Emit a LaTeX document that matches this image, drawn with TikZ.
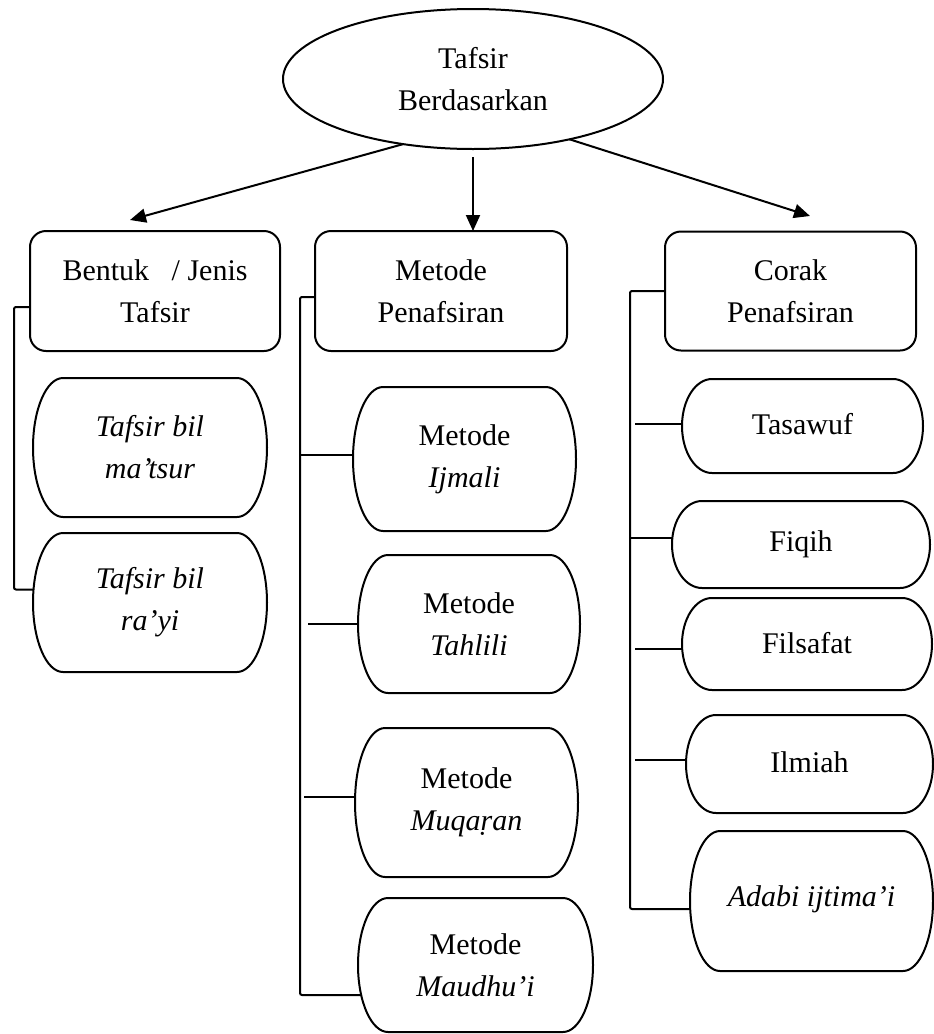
\documentclass[tikz,border=0pt]{standalone}
\usepackage{fontspec}
\setmainfont{Liberation Serif}
\usetikzlibrary{arrows.meta,shapes.geometric}
\newcommand\prx{30pt}
% #1 name, #2 cx, #3 cy, #4 width, #5 height, #6 text
\newcommand\mypill[6]{%
  \node[txt, minimum width=#4pt, minimum height=#5pt] (#1) at (#2,#3) {#6};
  \draw[ln] ([xshift=\prx]#1.north west) -- ([xshift=-\prx]#1.north east)
     arc[start angle=90, end angle=-90, x radius=\prx, y radius=#5pt/2]
     -- ([xshift=\prx]#1.south west)
     arc[start angle=270, end angle=90, x radius=\prx, y radius=#5pt/2] -- cycle;
}
\begin{document}
\begin{tikzpicture}[x=1pt,y=-1pt,
  ln/.style={line width=2pt},
  arr/.style={line width=2pt,-{Triangle[length=16pt,width=14pt]}},
  txt/.style={font=\fontsize{30}{42}\selectfont, align=center, inner sep=0pt, outer sep=0pt},
  rbox/.style={txt, draw, line width=2pt, rounded corners=16pt},
  ellnode/.style={txt, draw, ellipse, line width=2pt}
]
\useasboundingbox (0,0) rectangle (934,1034);

% top ellipse
\node[ellnode, minimum width=380pt, minimum height=140pt] (top) at (473,79) {Tafsir\\Berdasarkan};

% category boxes
\node[rbox, minimum width=250pt, minimum height=120pt] (b1) at (155,291) {Bentuk~~~/ Jenis\\Tafsir};
\node[rbox, minimum width=252pt, minimum height=120pt] (b2) at (441,291) {Metode\\Penafsiran};
\node[rbox, minimum width=251pt, minimum height=119pt] (b3) at (790.5,291) {Corak\\Penafsiran};

% arrows
\coordinate (t1) at (130,220);
\coordinate (t3) at (810,216);
\draw[arr] (top.223) -- (t1);
\draw[arr] ([yshift=-8pt]top.south) -- (top.south |- b2.north);
\draw[arr] (top.328) -- (t3);

% left column
\mypill{p1}{150}{447.5}{234}{139}{\textit{Tafsir bil}\\\textit{ma’tsur}}
\mypill{p2}{150}{602.5}{234}{139}{\textit{Tafsir bil}\\\textit{ra’yi}}

% middle column
\mypill{m1}{464.5}{459}{223}{144}{Metode\\\textit{Ijmali}}
\mypill{m2}{469}{624}{222}{138}{Metode\\\textit{Tahlili}}
\mypill{m3}{466.5}{802.5}{223}{149}{Metode\\\textit{Muqaṛan}}
\mypill{m4}{475.5}{965}{235}{134}{Metode\\\textit{Maudhu’i}}

% right column
\mypill{r1}{802.5}{426}{241}{94}{\raisebox{5pt}{Tasawuf}}
\mypill{r2}{801}{544.5}{258}{87}{Fiqih}
\mypill{r3}{807}{644}{250}{92}{\raisebox{3pt}{Filsafat}}
\mypill{r4}{809.5}{764}{247}{98}{\raisebox{4pt}{Ilmiah}}
\mypill{r5}{811.5}{901}{243}{140}{\raisebox{9pt}{\textit{Adabi ijtima’i}}}

% bracket lines
\coordinate (lv) at (14,0);
\coordinate (mv) at (300,0);
\coordinate (rv) at (630,0);

\draw[ln, rounded corners=2pt] ([yshift=-16pt]b1.west) -- ([yshift=-16pt]b1.west -| lv)
   -- ([yshift=13pt]p2.west -| lv) -- ([yshift=13pt]p2.west);

\draw[ln, rounded corners=2pt] ([yshift=-6pt]b2.west) -- ([yshift=-6pt]b2.west -| mv)
   -- ([yshift=-30pt]m4.west -| mv) -- ([shift={(3.2pt,-30pt)}]m4.west);
\draw[ln] ([yshift=4pt]m1.west) -- ([yshift=4pt]m1.west -| mv);
\draw[ln] (m2.west) -- ([xshift=8pt]m2.west -| mv);
\draw[ln] ([yshift=5.5pt]m3.west) -- ([xshift=4pt,yshift=5.5pt]m3.west -| mv);

\draw[ln, rounded corners=2pt] (b3.west) -- (b3.west -| rv)
   -- ([yshift=-8pt]r5.west -| rv) -- ([yshift=-8pt]r5.west);
\draw[ln] ([yshift=2pt]r1.west) -- ([xshift=5pt,yshift=2pt]r1.west -| rv);
\draw[ln] ([yshift=6.5pt]r2.west) -- ([yshift=6.5pt]r2.west -| rv);
\draw[ln] ([yshift=-5pt]r3.west) -- ([xshift=5pt,yshift=-5pt]r3.west -| rv);
\draw[ln] ([yshift=4pt]r4.west) -- ([xshift=5pt,yshift=4pt]r4.west -| rv);
\end{tikzpicture}
\end{document}
